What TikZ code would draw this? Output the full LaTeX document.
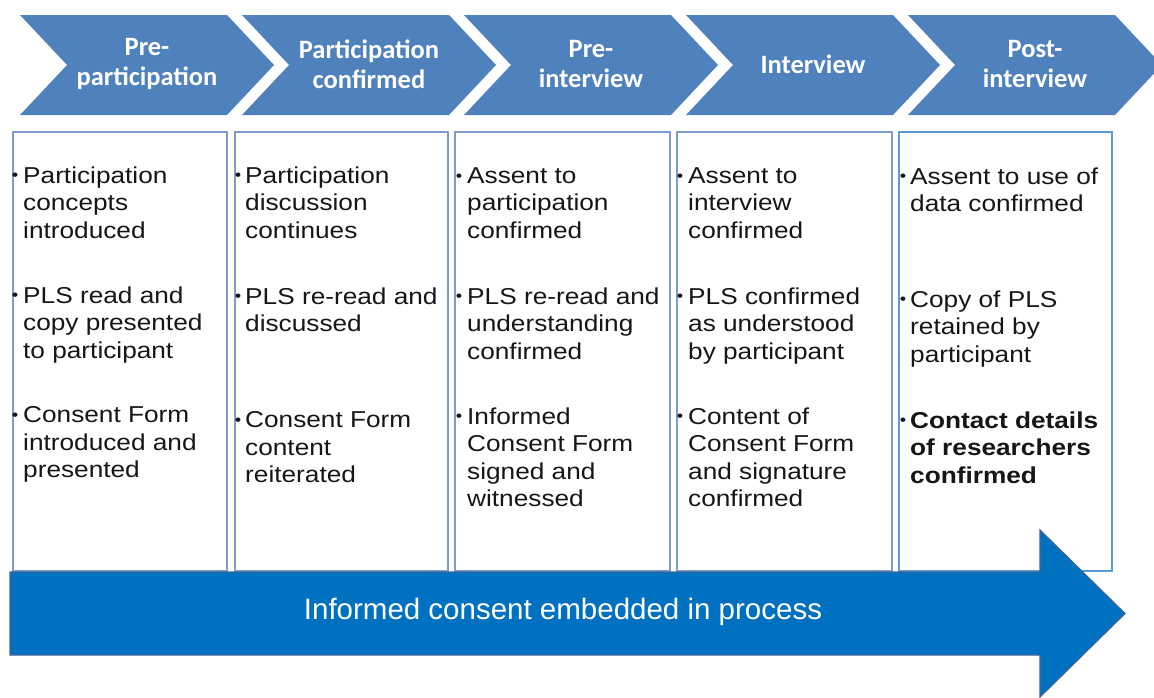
\documentclass[tikz,border=0pt]{standalone}
\usepackage{fontspec}
\setmainfont{Liberation Sans}
\newfontfamily\headfont{Carlito}
\newfontfamily\itemfont[FakeStretch=1.14]{Liberation Sans}

\definecolor{chevblue}{RGB}{79,129,189}
\definecolor{boxline}{RGB}{126,157,205}
\definecolor{boxlinefive}{RGB}{91,155,213}
\definecolor{arrowblue}{RGB}{0,112,192}
\definecolor{arrowedge}{RGB}{62,100,150}
\definecolor{itemink}{RGB}{22,22,22}

% one stage of the process: chevron with its caption
\newcommand{\stagechevron}[3]{%
  \fill[chevblue] (#1,15) -- ++(207,0) -- ++(47,50) -- ++(-47,50)
      -- ++(-207,0) -- ++(47,-50) -- cycle;
  \node[stagelabel] (#2) at (#1+127,64) {#3};
}
% one bulleted entry: name, bullet x, text x, first baseline, text
\newcommand{\stageentry}[5]{%
  \node[itemtext] (#1) at (#3,#4-16.7) {#5};
  \node[bulletmark] (#1-dot) at (#2,#4-6.5) {\textbullet};
}

\begin{document}
\begin{tikzpicture}[x=1pt,y=-1pt,
  stagelabel/.style={text=white, align=center, inner sep=0pt,
    font=\headfont\bfseries\fontsize{26.5}{30}\selectfont},
  colframe/.style={draw=boxline, line width=1.5pt, fill=white,
    anchor=north west, inner sep=0pt},
  itemtext/.style={anchor=north west, align=left, inner sep=0pt, text=itemink,
    font=\itemfont\fontsize{23}{27.5}\selectfont},
  bulletmark/.style={inner sep=0pt, text=itemink,
    font=\itemfont\fontsize{16}{16}\selectfont},
  flowarrow/.style={draw=arrowedge, line width=1.2pt, fill=arrowblue},
  flowtext/.style={text=white, inner sep=0pt,
    font=\fontsize{29.5}{32}\selectfont}
]
\useasboundingbox (0,0) rectangle (1154,697);
\clip (0,0) rectangle (1154,697);

% stages
\stagechevron{20}{s1}{Pre-\\participation}
\stagechevron{242}{s2}{Participation\\confirmed}
\stagechevron{464}{s3}{Pre-\\interview}
\stagechevron{686}{s4}{Interview}
\stagechevron{908}{s5}{Post-\\interview}

% columns
\node[colframe, minimum width=214pt, minimum height=439pt] (c1) at (12,131) {};
\node[colframe, minimum width=213pt, minimum height=439pt] (c2) at (234,131) {};
\node[colframe, minimum width=215pt, minimum height=439pt] (c3) at (454,131) {};
\node[colframe, minimum width=215pt, minimum height=439pt] (c4) at (676,131) {};
\node[colframe, draw=boxlinefive, minimum width=213pt, minimum height=439pt] (c5) at (898,131) {};

% column 1
\stageentry{a1}{15}{23}{183}{Participation\\concepts\\introduced}
\stageentry{a2}{15}{23}{303}{PLS read and\\copy presented\\to participant}
\stageentry{a3}{15}{23}{423}{Consent Form\\introduced and\\presented}
% column 2
\stageentry{b1}{238}{245}{183}{Participation\\discussion\\continues}
\stageentry{b2}{238}{245}{304}{PLS re-read and\\discussed}
\stageentry{b3}{238}{245}{428}{Consent Form\\content\\reiterated}
% column 3
\stageentry{d1}{459}{467}{184}{Assent to\\participation\\confirmed}
\stageentry{d2}{459}{467}{304}{PLS re-read and\\understanding\\confirmed}
\stageentry{d3}{459}{467}{424}{Informed\\Consent Form\\signed and\\witnessed}
% column 4
\stageentry{e1}{680}{688}{184}{Assent to\\interview\\confirmed}
\stageentry{e2}{680}{688}{304}{PLS confirmed\\as understood\\by participant}
\stageentry{e3}{680}{688}{424}{Content of\\Consent Form\\and signature\\confirmed}
% column 5
\stageentry{f1}{903}{910}{184}{Assent to use of\\data confirmed}
\stageentry{f2}{903}{910}{307}{Copy of PLS\\retained by\\participant}
\stageentry{f3}{903}{910}{428}{\bfseries Contact details\\\bfseries of researchers\\\bfseries confirmed}

% overall flow arrow
\draw[flowarrow] (10,572) -- (1040,572) -- (1040,530) -- (1125,613.5)
  -- (1040,697) -- (1040,655) -- (10,655) -- cycle;
\node[flowtext] (flow) at (563,612) {Informed consent embedded in process};
\end{tikzpicture}
\end{document}
